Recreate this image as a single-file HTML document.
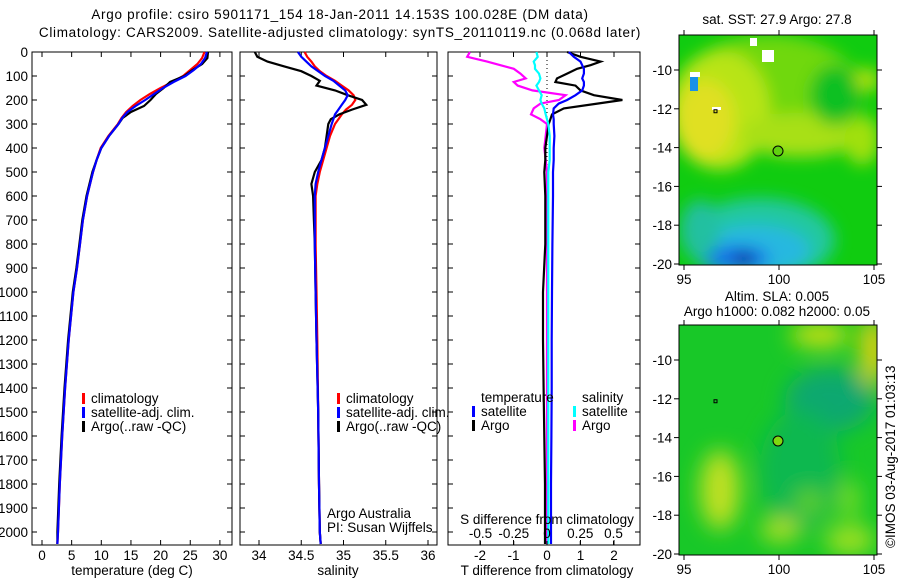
<!DOCTYPE html>
<html><head><meta charset="utf-8">
<style>
html,body{margin:0;padding:0;background:#fff;}
svg{display:block;font-family:"Liberation Sans",sans-serif;}
text{font-size:13.5px;fill:#000;}
.ttl{letter-spacing:0.7px;}
</style></head>
<body>
<svg id="chart" width="900" height="580" viewBox="0 0 900 580">
<defs>
<filter id="blur1" x="-20%" y="-20%" width="140%" height="140%"><feGaussianBlur stdDeviation="8"/></filter>
<filter id="blur2" x="-20%" y="-20%" width="140%" height="140%"><feGaussianBlur stdDeviation="11"/></filter>
<clipPath id="clipm1"><rect x="679" y="35" width="198" height="230"/></clipPath>
<clipPath id="clipm2"><rect x="679" y="325" width="198" height="230"/></clipPath>
</defs>
<text class="ttl" x="340" y="19" text-anchor="middle">Argo profile: csiro 5901171_154 18-Jan-2011 14.153S 100.028E (DM data)</text>
<text class="ttl" x="340" y="37" text-anchor="middle">Climatology: CARS2009. Satellite-adjusted climatology: synTS_20110119.nc (0.068d later)</text>

<g id="p1"></g>
<g id="p2"></g>
<g id="p3"></g>

<!-- Map 1 SST -->
<g>
<g clip-path="url(#clipm1)">
<rect x="679" y="35" width="198" height="230" fill="#10cc10"/>
<g filter="url(#blur1)">
<ellipse cx="770" cy="90" rx="90" ry="55" fill="#70d810"/>
<ellipse cx="720" cy="110" rx="50" ry="60" fill="#b8e418"/>
<ellipse cx="705" cy="120" rx="30" ry="40" fill="#e0e020"/>
<ellipse cx="800" cy="135" rx="60" ry="22" fill="#a8e018"/>
<ellipse cx="862" cy="140" rx="18" ry="25" fill="#a0e010"/>
<ellipse cx="866" cy="80" rx="14" ry="12" fill="#b0e010"/>
<ellipse cx="835" cy="95" rx="25" ry="30" fill="#10c020"/>
<ellipse cx="760" cy="240" rx="75" ry="42" fill="#20c8a0"/>
<ellipse cx="755" cy="250" rx="55" ry="25" fill="#28b8e0"/>
<ellipse cx="735" cy="258" rx="35" ry="12" fill="#1870e8"/>
<ellipse cx="744" cy="260" rx="10" ry="8" fill="#000890"/>
<ellipse cx="700" cy="230" rx="20" ry="30" fill="#20c0a0"/>
</g>
<rect x="690" y="77" width="8" height="14" fill="#1890e8"/>
<rect x="690" y="72" width="10" height="5" fill="#fff"/>
<rect x="750" y="38" width="7" height="8" fill="#fff"/>
<rect x="762" y="50" width="12" height="12" fill="#fff"/>
<rect x="712" y="107" width="9" height="3" fill="#fff"/>
</g>
<circle cx="778" cy="151" r="5" fill="#60d010" stroke="#000"/>
<rect x="679" y="35" width="198" height="230" fill="none" stroke="#000"/>
<text x="777" y="24" text-anchor="middle">sat. SST: 27.9 Argo: 27.8</text>
</g>

<!-- Map 2 SLA -->
<g>
<g clip-path="url(#clipm2)">
<rect x="679" y="325" width="198" height="230" fill="#18c828"/>
<g filter="url(#blur2)">
<ellipse cx="830" cy="400" rx="45" ry="32" fill="#10a870"/>
<ellipse cx="800" cy="470" rx="40" ry="60" fill="#10b850"/>
<ellipse cx="720" cy="490" rx="20" ry="40" fill="#c0e020"/>
<ellipse cx="780" cy="530" rx="20" ry="12" fill="#b0e020"/>
<ellipse cx="810" cy="502" rx="15" ry="12" fill="#60d020"/>
<ellipse cx="820" cy="335" rx="30" ry="12" fill="#d0e010"/>
<ellipse cx="873" cy="350" rx="12" ry="35" fill="#f0d010"/>
<ellipse cx="850" cy="540" rx="25" ry="15" fill="#a0e020"/>
<ellipse cx="850" cy="500" rx="8" ry="20" fill="#90e020"/>
</g>
</g>
<circle cx="778" cy="441" r="5" fill="#80d810" stroke="#000"/>
<rect x="679" y="325" width="198" height="230" fill="none" stroke="#000"/>
<text x="777" y="301" text-anchor="middle">Altim. SLA: 0.005</text>
<text x="777" y="316" text-anchor="middle">Argo h1000: 0.082 h2000: 0.05</text>
</g>
<text transform="translate(895,548) rotate(-90)">©IMOS 03-Aug-2017 01:03:13</text>
<g id="mapaxes"></g>
</svg>
<script>
// ---- data ----
const depths = [0,25,50,75,100,125,150,175,200,225,250,275,300,350,400,450,500,600,700,800,900,1000,1200,1400,1600,1800,2000,2050];
const tempClim = [27.4,27.0,26.2,25.0,23.8,22.0,20.0,18.2,16.6,15.3,14.2,13.4,12.8,11.2,9.9,9.2,8.6,7.6,6.9,6.4,5.9,5.3,4.5,3.9,3.4,3.0,2.7,2.6];
const tempSat  = [27.8,27.5,26.8,25.6,24.2,22.2,20.4,18.9,17.4,15.8,14.4,13.5,12.9,11.3,10.0,9.2,8.6,7.6,6.9,6.4,5.9,5.3,4.5,3.9,3.4,3.0,2.7,2.6];
const tempArgo = [28.0,27.9,27.0,25.4,24.0,21.6,20.5,19.2,18.3,17.2,15.0,13.6,12.9,11.3,10.0,9.2,8.5,7.5,6.8,6.3,5.8,5.2,4.4,3.8,3.3,2.9,2.6,2.6];
const salDepths = [0,20,40,60,80,100,120,140,160,180,200,220,240,260,280,300,350,400,450,500,550,600,700,800,1000,1200,1500,1800,2000,2050];
const salClim = [34.54,34.57,34.62,34.66,34.72,34.80,34.90,34.98,35.06,35.12,35.14,35.10,35.03,34.98,34.94,34.90,34.84,34.80,34.76,34.72,34.69,34.67,34.67,34.67,34.68,34.69,34.70,34.71,34.72,34.73];
const salSat  = [34.46,34.50,34.56,34.62,34.70,34.78,34.88,34.95,35.02,35.05,35.02,34.98,34.94,34.90,34.88,34.86,34.82,34.78,34.74,34.70,34.67,34.66,34.66,34.66,34.67,34.68,34.70,34.71,34.72,34.73];
const salArgo = [33.95,33.98,34.10,34.30,34.50,34.62,34.72,34.68,34.90,35.05,35.22,35.27,35.10,34.95,34.85,34.82,34.80,34.78,34.74,34.66,34.62,34.64,34.65,34.66,34.67,34.68,34.70,34.71,34.72,34.73];
const diffDepths = [0,20,40,55,70,90,110,125,140,160,180,200,215,235,260,280,300,350,400,450,500,600,800,1000,1200,1400,1600,1800,2000,2050];
const tDiffSat  = [0.65,0.8,1.0,1.05,1.1,1.1,1.05,1.1,1.1,1.05,0.85,0.6,0.35,0.2,0.18,0.2,0.2,0.22,0.2,0.2,0.18,0.18,0.16,0.15,0.14,0.14,0.13,0.12,0.12,0.12];
const tDiffArgo = [0.6,1.0,1.6,1.3,0.9,0.6,0.3,0.25,0.85,1.0,1.4,2.25,1.5,0.5,0.15,0.1,0.05,0.0,-0.05,-0.05,-0.08,-0.05,-0.05,-0.12,-0.12,-0.1,-0.08,-0.06,-0.06,-0.06];
const sDiffArgo = [-0.58,-0.6,-0.45,-0.35,-0.25,-0.2,-0.16,-0.25,-0.22,-0.11,0.14,0.09,-0.05,-0.1,-0.12,-0.05,0.0,-0.01,-0.02,-0.01,0.0,0.0,0.0,0.0,0.0,0.0,0.0,0.0,0.0,0.0];
const sDiffSat  = [-0.08,-0.07,-0.1,-0.09,-0.09,-0.06,-0.05,-0.06,-0.08,-0.06,-0.04,-0.05,-0.04,-0.02,-0.01,0.0,0.01,0.02,0.02,0.02,0.01,0.01,0.01,0.01,0.01,0.01,0.01,0.01,0.01,0.01];
const depthTicks = [0,100,200,300,400,500,600,700,800,900,1000,1100,1200,1300,1400,1500,1600,1700,1800,1900,2000];
const tempTicks = [0,5,10,15,20,25,30];
const salTicks = [34,34.5,35,35.5,36];
const salTickLabels = ["34","34.5","35","35.5","36"];
const tDiffTicks = [-2,-1,0,1,2];
const sDiffTicks = [-0.5,-0.25,0,0.25,0.5];
const sDiffTickLabels = ["-0.5","-0.25","0","0.25","0.5"];
const lonTicks = [95,100,105];
const latTicks = [-10,-12,-14,-16,-18,-20];

const NS = "http://www.w3.org/2000/svg";
const TOP = 52, BOT = 545;
const yD = d => TOP + d * 0.24;
function el(parent, tag, attrs){ const e=document.createElementNS(NS,tag); for(const k in attrs) e.setAttribute(k,attrs[k]); parent.appendChild(e); return e; }
function txt(parent, x, y, s, anchor){ const t=el(parent,'text',{x:x,y:y,'text-anchor':anchor||'start'}); t.textContent=s; return t; }

function frame(g, x0, x1){
  const r = el(g,'rect',{x:x0,y:TOP,width:x1-x0,height:BOT-TOP,fill:'none',stroke:'#000'});
  
  
  depthTicks.forEach(d=>{
    el(g,'line',{x1:x0,x2:x0+5,y1:yD(d),y2:yD(d),stroke:'#000'});
    el(g,'line',{x1:x1-5,x2:x1,y1:yD(d),y2:yD(d),stroke:'#000'});
  });
}
function line(g, xs, ds, xf, color, name){
  const pts = xs.map((v,i)=>xf(v).toFixed(1)+','+yD(ds[i]).toFixed(1)).join(' ');
  const p = el(g,'polyline',{points:pts,fill:'none',stroke:color,'stroke-width':2.2});
  
  
}
function legend(g, x, y, color, label){
  el(g,'rect',{x:x,y:y-10,width:3,height:11,fill:color});
  const t = txt(g, x+9, y, label);
  
  
}

// Panel 1: temperature
const p1 = document.getElementById('p1');
const xT = t => 42 + t * 5.93;
frame(p1, 32, 232);
depthTicks.forEach(d=>{ const t=txt(p1, 28, yD(d)+5, String(d), 'end');
  
   });
tempTicks.forEach(v=>{ el(p1,'line',{x1:xT(v),x2:xT(v),y1:BOT,y2:BOT-5,stroke:'#000'}); el(p1,'line',{x1:xT(v),x2:xT(v),y1:TOP,y2:TOP+5,stroke:'#000'});
  const t=txt(p1,xT(v),BOT+15,String(v),'middle');
  
   });
line(p1, tempClim, depths, xT, '#ff0000', 'temp-climatology-line');
line(p1, tempArgo, depths, xT, '#000000', 'temp-argo-line');
line(p1, tempSat, depths, xT, '#0000ff', 'temp-satellite-line');
const a1 = txt(p1, 132, 575, 'temperature (deg C)', 'middle');


legend(p1, 82, 403, '#ff0000', 'climatology');
legend(p1, 82, 417, '#0000ff', 'satellite-adj. clim.');
legend(p1, 82, 431, '#000000', 'Argo(..raw -QC)');

// Panel 2: salinity
const p2 = document.getElementById('p2');
const xS = s => 259 + (s - 34) * 84.5;
frame(p2, 240, 437);
salTicks.forEach((v,i)=>{ el(p2,'line',{x1:xS(v),x2:xS(v),y1:BOT,y2:BOT-5,stroke:'#000'}); el(p2,'line',{x1:xS(v),x2:xS(v),y1:TOP,y2:TOP+5,stroke:'#000'});
  const t=txt(p2,xS(v),BOT+15,salTickLabels[i],'middle');
  
   });
line(p2, salClim, salDepths, xS, '#ff0000', 'sal-climatology-line');
line(p2, salArgo, salDepths, xS, '#000000', 'sal-argo-line');
line(p2, salSat, salDepths, xS, '#0000ff', 'sal-satellite-line');
const a2 = txt(p2, 338, 575, 'salinity', 'middle');


legend(p2, 337, 403, '#ff0000', 'climatology');
legend(p2, 337, 417, '#0000ff', 'satellite-adj. clim.');
legend(p2, 337, 431, '#000000', 'Argo(..raw -QC)');
const aa = txt(p2, 327, 518, 'Argo Australia');


const pi = txt(p2, 327, 532, 'PI: Susan Wijffels');



// Panel 3: differences
const p3 = document.getElementById('p3');
const xTD = v => 547 + v * 33.5;
const xSD = v => 547 + v * 133;
frame(p3, 448, 640);
el(p3,'line',{x1:547,x2:547,y1:TOP,y2:yD(1000),stroke:'#000','stroke-dasharray':'1,3'});
tDiffTicks.forEach(v=>{ el(p3,'line',{x1:xTD(v),x2:xTD(v),y1:BOT,y2:BOT-5,stroke:'#000'}); el(p3,'line',{x1:xTD(v),x2:xTD(v),y1:TOP,y2:TOP+5,stroke:'#000'});
  const t=txt(p3,xTD(v),BOT+15,String(v),'middle');
  
   });
line(p3, sDiffArgo, diffDepths, xSD, '#ff00ff', 'sdiff-argo-line');
line(p3, tDiffArgo, diffDepths, xTD, '#000000', 'tdiff-argo-line');
line(p3, tDiffSat, diffDepths, xTD, '#0000ff', 'tdiff-satellite-line');
line(p3, sDiffSat, diffDepths, xSD, '#00ffff', 'sdiff-satellite-line');
sDiffTicks.forEach((v,i)=>{ el(p3,'line',{x1:xSD(v),x2:xSD(v),y1:BOT-4,y2:BOT,stroke:'#000'});
  const t=txt(p3,xSD(v),538,sDiffTickLabels[i],'middle');
  
   });
const st = txt(p3, 547, 524, 'S difference from climatology', 'middle');


const a3 = txt(p3, 547, 575, 'T difference from climatology', 'middle');


const lt = txt(p3, 481, 402, 'temperature');


const ls = txt(p3, 582, 402, 'salinity');


legend(p3, 472, 416, '#0000ff', 'satellite');
legend(p3, 472, 430, '#000000', 'Argo');
legend(p3, 573, 416, '#00ffff', 'satellite');
legend(p3, 573, 430, '#ff00ff', 'Argo');

// Map axes
const ma = document.getElementById('mapaxes');
const xLon = l => 684 + (l - 95) * 19.0;
[[35,265,70,264],[325,555,360,554]].forEach(([y0,y1,ya,yb],mi)=>{
  const yLat = la => ya + (-10 - la) * (yb - ya) / 10;
  lonTicks.forEach(l=>{ el(ma,'line',{x1:xLon(l),x2:xLon(l),y1:y1,y2:y1+5,stroke:'#000'}); el(ma,'line',{x1:xLon(l),x2:xLon(l),y1:y0,y2:y0-5,stroke:'#000'});
    const t=txt(ma,xLon(l),y1+19,String(l),'middle');
    
     });
  latTicks.forEach(la=>{ el(ma,'line',{x1:674,x2:679,y1:yLat(la),y2:yLat(la),stroke:'#000'}); el(ma,'line',{x1:877,x2:882,y1:yLat(la),y2:yLat(la),stroke:'#000'});
    const t=txt(ma,672,yLat(la)+5,String(la),'end');
    
     });
  el(ma,'rect',{x:714,y:yLat(-12.1)-1,width:3,height:3,fill:'none',stroke:'#000','stroke-width':1});
});
</script>
</body></html>
